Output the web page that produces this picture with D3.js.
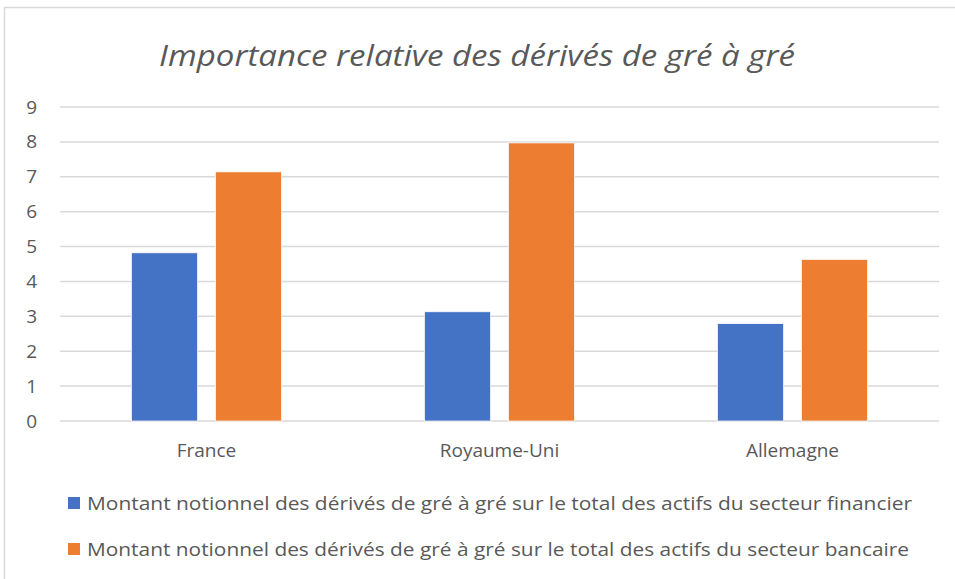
<!DOCTYPE html>
<html>
<head>
<meta charset="utf-8">
<script src="https://cdn.jsdelivr.net/npm/d3@7"></script>
<style>
  body { margin: 0; background: #fff; }
  text { font-family: "Open Sans", "Noto Sans", sans-serif; fill: #595959; }
</style>
</head>
<body>
<div id="chart"></div>
<script>
// Data
const countries = ["France", "Royaume-Uni", "Allemagne"];
const seriesNames = [
    "Montant notionnel des dérivés de gré à gré sur le total des actifs du secteur financier",
    "Montant notionnel des dérivés de gré à gré sur le total des actifs du secteur bancaire"
];
const financier = [4.82, 3.13, 2.79];
const bancaire = [7.14, 7.97, 4.63];
const yTicks = [0, 1, 2, 3, 4, 5, 6, 7, 8, 9];
const colors = ["#4472C4", "#ED7D31"];

const W = 955, H = 579;
const margin = { top: 107, right: 16, bottom: 158, left: 60 },
    width = W - margin.left - margin.right,
    height = H - margin.top - margin.bottom;

const svg = d3.select("#chart")
    .append("svg")
    .attr("width", W)
    .attr("height", H)

// chart border
svg.append("path")
    .attr("d", "M4.5,579 V7.5 H955")
    .attr("fill", "none")
    .attr("stroke", "#d9d9d9")
    .attr("stroke-width", 1.5)

// Title
svg.append("text")
    .attr("x", 477)
    .attr("y", 66)
    .attr("text-anchor", "middle")
    .style("font-size", "30px")
    .style("font-style", "italic")
    .attr("textLength", 636)
    .attr("lengthAdjust", "spacingAndGlyphs")
    .text("Importance relative des dérivés de gré à gré")

const g = svg.append("g")
    .attr("transform", `translate(${margin.left},${margin.top})`)

// Scales
const x0 = d3.scaleBand()
    .domain(countries)
    .range([0, width])
    .paddingInner(0.488)
    .paddingOuter(0.244)

const x1 = d3.scaleBand()
    .domain([0, 1])
    .range([0, x0.bandwidth()])
    .paddingInner(0.214)

const y = d3.scaleLinear()
    .domain([0, 9])
    .range([height, 0])

// Gridlines
g.selectAll("line.grid")
    .data(yTicks)
    .join("line")
    .attr("class", "grid")
    .attr("x1", 0)
    .attr("x2", width)
    .attr("y1", d => y(d))
    .attr("y2", d => y(d))
    .attr("stroke", "#d9d9d9")
    .attr("stroke-width", 1.5)

// Y axis labels
const yAxis = d3.axisLeft(y).tickValues(yTicks).tickSize(0).tickPadding(23)
const ya = g.append("g").call(yAxis)
ya.select(".domain").remove()
ya.selectAll("text")
    .style("font-size", "19px")
    .style("font-family", "\"Open Sans\", sans-serif")
    .attr("fill", "#595959")

// Bars
const rows = countries.map((c, i) => ({ country: c, values: [financier[i], bancaire[i]] }))

const groups = g.selectAll("g.grp")
    .data(rows)
    .join("g")
    .attr("class", "grp")
    .attr("transform", d => `translate(${x0(d.country)},0)`)

groups.selectAll("rect")
    .data(d => d.values.map((v, k) => ({ k: k, v: v })))
    .join("rect")
    .attr("x", d => x1(d.k))
    .attr("width", x1.bandwidth())
    .attr("y", d => y(d.v))
    .attr("height", d => y(0) - y(d.v))
    .attr("fill", d => colors[d.k])
    .attr("stroke", "#fff")
    .attr("stroke-width", 0.7)

// X axis labels
const xAxis = d3.axisBottom(x0).tickSize(0).tickPadding(23)
const xa = g.append("g")
    .attr("transform", `translate(0,${height})`)
    .call(xAxis)
xa.select(".domain").remove()
xa.selectAll("text")
    .style("font-size", "19px")
    .style("font-family", "\"Open Sans\", sans-serif")
    .attr("fill", "#595959")

// Legend
const legend = svg.append("g")
    .selectAll("g")
    .data(seriesNames)
    .join("g")
    .attr("transform", (d, i) => `translate(68,${497 + i * 46})`)

legend.append("rect")
    .attr("width", 12)
    .attr("height", 12)
    .attr("fill", (d, i) => colors[i])

legend.append("text")
    .attr("x", 19)
    .attr("y", 6)
    .attr("dominant-baseline", "central")
    .style("font-size", "19px")
    .attr("textLength", (d, i) => i == 0 ? 825 : 822)
    .attr("lengthAdjust", "spacingAndGlyphs")
    .text(d => d)
</script>
</body>
</html>
